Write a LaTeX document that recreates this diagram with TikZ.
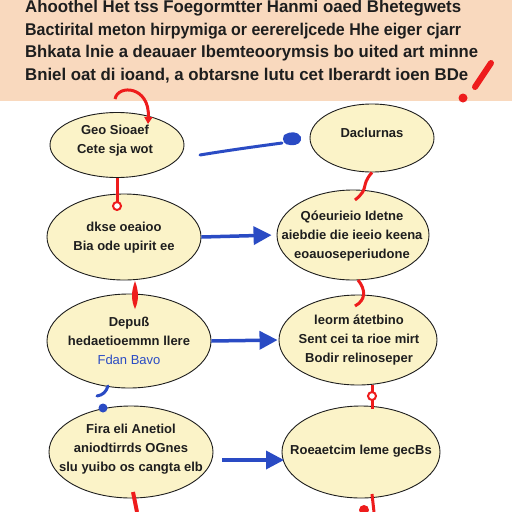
\documentclass[tikz,border=0pt]{standalone}
\usepackage{fontspec}
\setmainfont{Liberation Sans}
\usetikzlibrary{shapes.geometric,arrows.meta}
\definecolor{hdr}{HTML}{F9D9BE}
\definecolor{ellfill}{HTML}{FBF3C8}
\definecolor{ink}{HTML}{1E1E1E}
\definecolor{bl}{HTML}{2A4BC4}
\definecolor{rd}{HTML}{EE1C1C}
\tikzset{
  ell/.style={ellipse, draw=ink, line width=0.9pt, fill=ellfill, inner sep=0pt},
  etext/.style={inner sep=0pt, align=center, text=ink, font=\bfseries\fontsize{13}{19}\selectfont},
  hline/.style={anchor=west, inner sep=0pt, text=ink, font=\bfseries\fontsize{17}{17}\selectfont},
  barrow/.style={draw=bl, line width=3.5pt, -{Triangle[length=18pt,width=18pt]}},
  bline/.style={draw=bl, line width=3pt, line cap=round},
  rline/.style={draw=rd, line width=3pt},
  ring/.style={circle, draw=rd, line width=2pt, fill=white, inner sep=0pt, minimum size=8pt},
}
\newcommand{\hl}[2]{\resizebox{#1}{\height}{#2}}
\begin{document}
\begin{tikzpicture}[x=1pt,y=-1pt]
\useasboundingbox (0,0) rectangle (512,512);
\fill[white] (0,0) rectangle (512,512);
\fill[hdr] (0,0) rectangle (512,101);
% header text
\node[hline] (h1) at (25,8) {\hl{436pt}{Ahoothel Het tss Foegormtter Hanmi oaed Bhetegwets}};
\node[hline] (h2) at (25,31) {\hl{436pt}{Bactirital meton hirpymiga or eerereljcede Hhe eiger cjarr}};
\node[hline] (h3) at (25,53) {\hl{453pt}{Bhkata lnie a deauaer Ibemteoorymsis bo uited art minne}};
\node[hline] (h4) at (25,76) {\hl{443pt}{Bniel oat di ioand, a obtarsne lutu cet Iberardt ioen BDe}};
% exclamation
\draw[rd, line width=6pt, line cap=round] (491,63) -- (475,87);
\fill[rd] (463,98) circle (4.5);
% ellipses
\node[ell, minimum width=134pt, minimum height=65pt] (e1) at (117,145) {};
\node[ell, minimum width=124pt, minimum height=68pt] (e2) at (372,138) {};
\node[ell, minimum width=154pt, minimum height=86pt] (e3) at (124,237) {};
\node[ell, minimum width=152pt, minimum height=90pt] (e4) at (353,235) {};
\node[ell, minimum width=164pt, minimum height=94pt] (e5) at (129,341) {};
\node[ell, minimum width=158pt, minimum height=90pt] (e6) at (358,340) {};
\node[ell, minimum width=164pt, minimum height=92pt] (e7) at (131,452) {};
\node[ell, minimum width=158pt, minimum height=92pt] (e8) at (361,452) {};
% texts
\node[etext] (t1) at (115,141) {Geo Sioaef\\Cete sja wot};
\node[etext] (t2) at (372,133) {Daclurnas};
\node[etext] (t3) at (124,238) {dkse oeaioo\\Bia ode upirit ee};
\node[etext] (t4) at (352,236) {Qóeurieio Idetne\\aiebdie die ieeio keena\\eoauoseperiudone};
\node[etext] (t5) at (129,341) {Depuß\\hedaetioemmn llere\\\textcolor{bl}{\mdseries Fdan Bavo}};
\node[etext] (t6) at (359,340) {leorm átetbino\\Sent cei ta rioe mirt\\Bodir relinoseper};
\node[etext] (t7) at (131,449) {Fira eli Anetiol\\aniodtirrds OGnes\\slu yuibo os cangta elb};
\node[etext] (t8) at (361,451) {Roeaetcim leme gecBs};
% blue horizontal connectors
\coordinate (b1s) at (200,155);
\coordinate (b1e) at (282,143);
\draw[bline] (b1s) .. controls (230,150) and (260,146) .. (b1e);
\fill[bl] (284,135) .. controls (290,131) and (298,131) .. (301,137) .. controls (302,142) and (298,146) .. (290,145) .. controls (285,145) and (281,141) .. (284,135) -- cycle;
\draw[barrow, shorten >=5pt] (e3.east) -- (e4.west);
\draw[barrow, shorten >=1pt] (e5.east) -- (e6.west);
\coordinate (a4s) at (222,460);
\coordinate (a4e) at (284,460);
\draw[barrow] (a4s) -- (a4e);
% red curved arrow into e1
\coordinate (r0) at (115,99);
\coordinate (r0e) at (148,124);
\draw[rline, -{Triangle[length=7pt,width=8pt]}] (r0) .. controls (118,84) and (150,86) .. (r0e);
% e1 -> e3
\coordinate (k1) at (117,204);
\draw[rline] (e1.south) -- (k1);
\node[ring] (k1r) at (117,206) {};
% e2 -> e4 squiggle
\coordinate (s2) at (355,200);
\draw[rline] (e2.south) .. controls (360,186) and (370,188) .. (s2);
% e3 -> e5 teardrop
\coordinate (t3c) at (135,281);
\fill[rd] (t3c) .. controls (139,292) and (139,300) .. (135,309) .. controls (131,300) and (131,292) .. (t3c) -- cycle;
% e4 -> e6
\coordinate (s4a) at (358,280);
\coordinate (s4b) at (355,306);
\draw[rline] (s4a) .. controls (366,290) and (366,300) .. (s4b);
% e5 -> e7 blue hook
\coordinate (u5a) at (108,386);
\coordinate (u5b) at (97,396);
\draw[bline] (u5a) .. controls (106,392) and (103,395) .. (u5b);
\fill[bl] (103,408) circle (4.5);
% e6 -> e8
\coordinate (k6) at (372,409);
\draw[rline] (e6.south -| k6) -- (k6);
\node[ring] (k6r) at (372,396) {};
% below e7, e8
\coordinate (z7a) at (133,492);
\coordinate (z7b) at (137,512);
\draw[draw=rd, line width=4pt] (z7a) -- (z7b);
\coordinate (z8a) at (372,494);
\coordinate (z8b) at (374,512);
\draw[rline] (z8a) -- (z8b);
\fill[rd] (364,510) circle (5);
\end{tikzpicture}
\end{document}
